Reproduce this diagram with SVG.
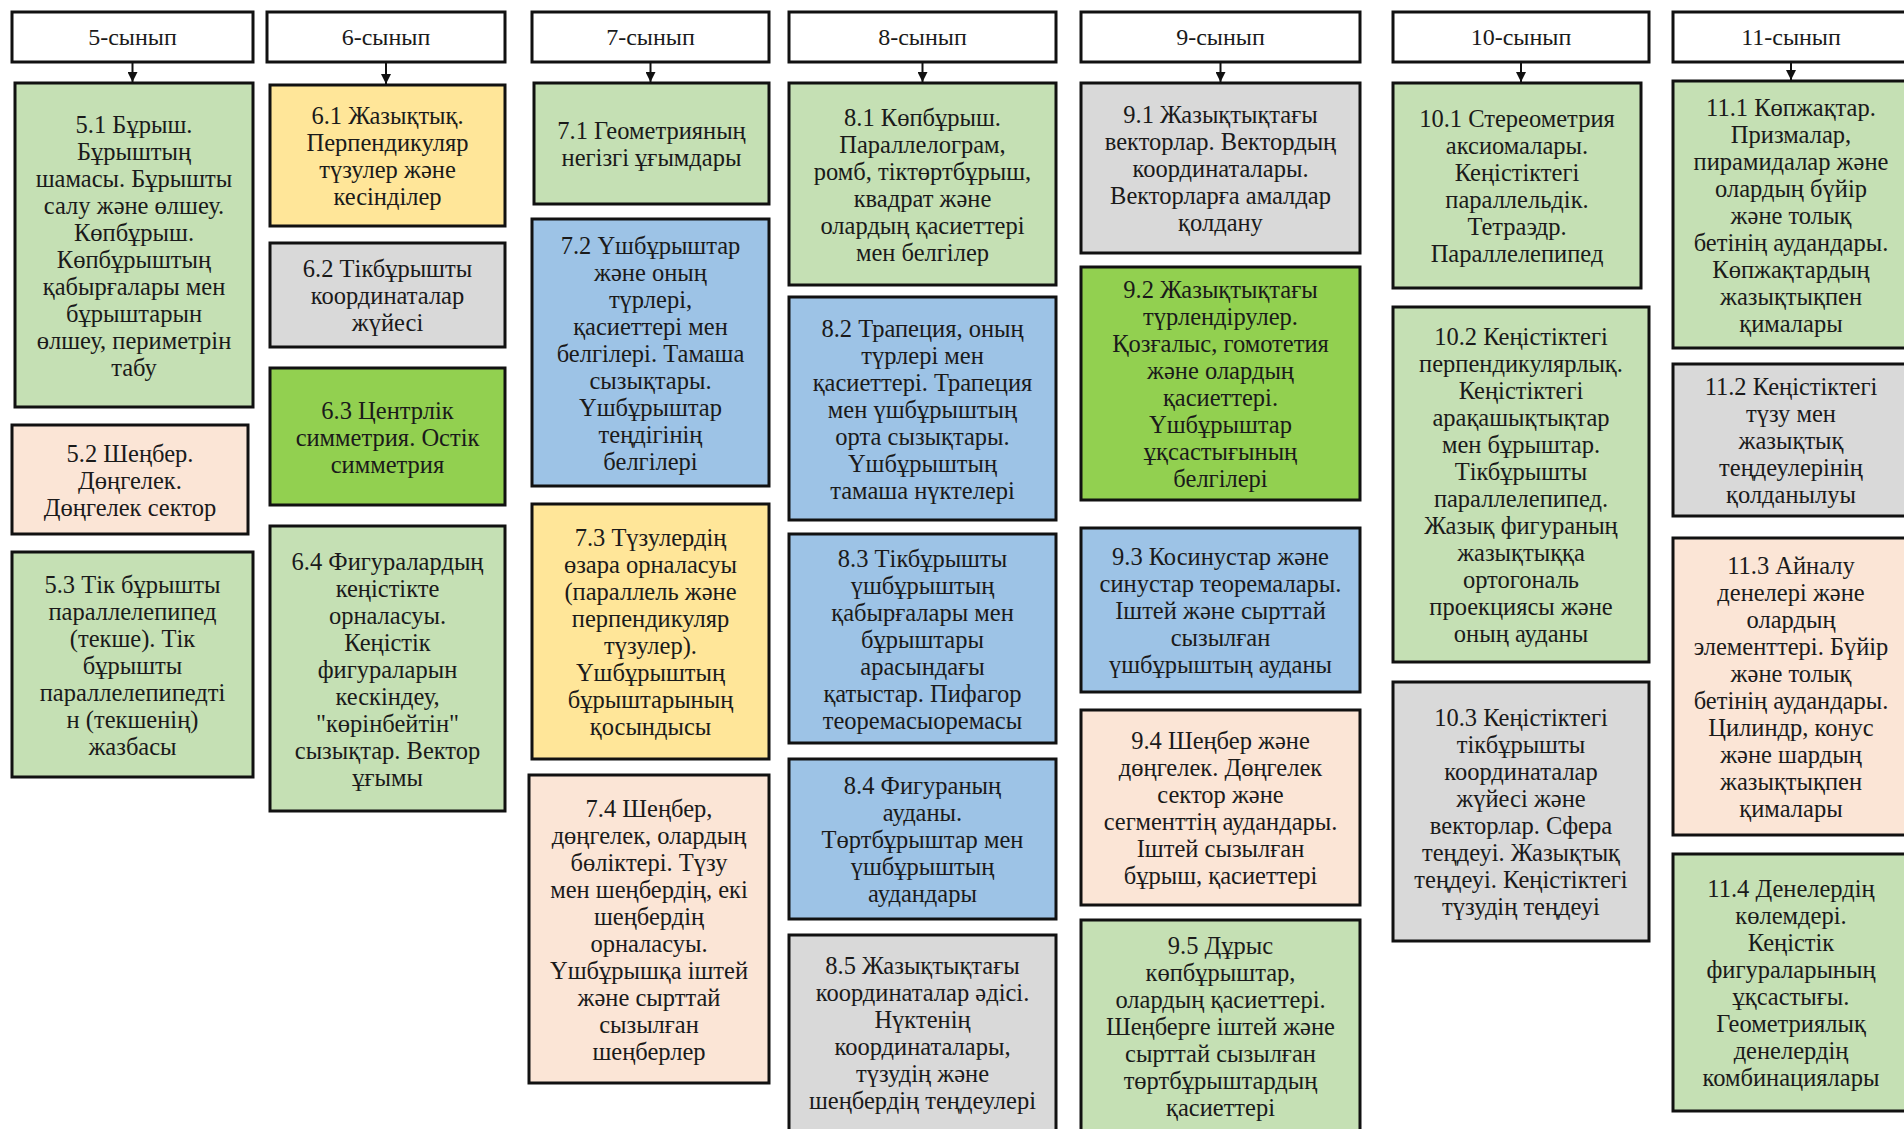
<svg xmlns="http://www.w3.org/2000/svg" width="1904" height="1129" viewBox="0 0 1904 1129">
<style>
.b{stroke:#111;stroke-width:3}
.hd{fill:#fff}
.g{fill:#c5e0b4}.y{fill:#ffe699}.gr{fill:#d9d9d9}.bg{fill:#92d050}.bl{fill:#9dc3e6}.pk{fill:#fbe5d6}
text{font-family:"Liberation Serif","Times New Roman",serif;font-size:24.5px;fill:#1a1a1a;text-anchor:middle}
.ht{font-size:24px}
.c{stroke:#111;stroke-width:2;fill:none}
</style>
<defs>
<marker id="ah" viewBox="0 0 10 10" refX="10" refY="5" markerWidth="5" markerHeight="5" orient="auto" markerUnits="strokeWidth">
<path d="M0,0 L10,5 L0,10 z" fill="#111"/>
</marker>
</defs>
<rect width="1904" height="1129" fill="#fff"/>

<g id="headers">
<g id="h5"><rect class="b hd" x="12" y="12" width="241" height="50"/><text class="ht" x="132.5" y="45">5-сынып</text></g>
<g id="h6"><rect class="b hd" x="267" y="12" width="238" height="50"/><text class="ht" x="386" y="45">6-сынып</text></g>
<g id="h7"><rect class="b hd" x="532" y="12" width="237" height="50"/><text class="ht" x="650.5" y="45">7-сынып</text></g>
<g id="h8"><rect class="b hd" x="789" y="12" width="267" height="50"/><text class="ht" x="922.5" y="45">8-сынып</text></g>
<g id="h9"><rect class="b hd" x="1081" y="12" width="279" height="50"/><text class="ht" x="1220.5" y="45">9-сынып</text></g>
<g id="h10"><rect class="b hd" x="1393" y="12" width="256" height="50"/><text class="ht" x="1521" y="45">10-сынып</text></g>
<g id="h11"><rect class="b hd" x="1673" y="12" width="240" height="50"/><text class="ht" x="1791" y="45">11-сынып</text></g>
</g>

<g id="connectors">
<line class="c" x1="132.5" y1="63" x2="132.5" y2="82" marker-end="url(#ah)"/>
<line class="c" x1="386" y1="63" x2="386" y2="84" marker-end="url(#ah)"/>
<line class="c" x1="650.5" y1="63" x2="650.5" y2="82" marker-end="url(#ah)"/>
<line class="c" x1="922.5" y1="63" x2="922.5" y2="82" marker-end="url(#ah)"/>
<line class="c" x1="1220.5" y1="63" x2="1220.5" y2="82" marker-end="url(#ah)"/>
<line class="c" x1="1521" y1="63" x2="1521" y2="82" marker-end="url(#ah)"/>
<line class="c" x1="1791" y1="63" x2="1791" y2="80" marker-end="url(#ah)"/>
</g>

<g id="n5_1"><rect class="b g" x="15" y="83" width="238" height="324"/>
<text x="134" y="132.5"><tspan x="134">5.1 Бұрыш.</tspan><tspan x="134" dy="27">Бұрыштың</tspan><tspan x="134" dy="27">шамасы. Бұрышты</tspan><tspan x="134" dy="27">салу және өлшеу.</tspan><tspan x="134" dy="27">Көпбұрыш.</tspan><tspan x="134" dy="27">Көпбұрыштың</tspan><tspan x="134" dy="27">қабырғалары мен</tspan><tspan x="134" dy="27">бұрыштарын</tspan><tspan x="134" dy="27">өлшеу, периметрін</tspan><tspan x="134" dy="27">табу</tspan></text></g>

<g id="n5_2"><rect class="b pk" x="12" y="425" width="236" height="109"/>
<text x="130" y="461.5"><tspan x="130">5.2 Шеңбер.</tspan><tspan x="130" dy="27">Дөңгелек.</tspan><tspan x="130" dy="27">Дөңгелек сектор</tspan></text></g>

<g id="n5_3"><rect class="b g" x="12" y="552" width="241" height="225"/>
<text x="132.5" y="592.5"><tspan x="132.5">5.3 Тік бұрышты</tspan><tspan x="132.5" dy="27">параллелепипед</tspan><tspan x="132.5" dy="27">(текше). Тік</tspan><tspan x="132.5" dy="27">бұрышты</tspan><tspan x="132.5" dy="27">параллелепипедті</tspan><tspan x="132.5" dy="27">н (текшенің)</tspan><tspan x="132.5" dy="27">жазбасы</tspan></text></g>

<g id="n6_1"><rect class="b y" x="270" y="85" width="235" height="141"/>
<text x="387.5" y="124"><tspan x="387.5">6.1 Жазықтық.</tspan><tspan x="387.5" dy="27">Перпендикуляр</tspan><tspan x="387.5" dy="27">түзулер және</tspan><tspan x="387.5" dy="27">кесінділер</tspan></text></g>

<g id="n6_2"><rect class="b gr" x="270" y="243" width="235" height="104"/>
<text x="387.5" y="277"><tspan x="387.5">6.2 Тікбұрышты</tspan><tspan x="387.5" dy="27">координаталар</tspan><tspan x="387.5" dy="27">жүйесі</tspan></text></g>

<g id="n6_3"><rect class="b bg" x="270" y="368" width="235" height="137"/>
<text x="387.5" y="418.5"><tspan x="387.5">6.3 Центрлік</tspan><tspan x="387.5" dy="27">симметрия. Остік</tspan><tspan x="387.5" dy="27">симметрия</tspan></text></g>

<g id="n6_4"><rect class="b g" x="270" y="526" width="235" height="285"/>
<text x="387.5" y="569.5"><tspan x="387.5">6.4 Фигуралардың</tspan><tspan x="387.5" dy="27">кеңістікте</tspan><tspan x="387.5" dy="27">орналасуы.</tspan><tspan x="387.5" dy="27">Кеңістік</tspan><tspan x="387.5" dy="27">фигураларын</tspan><tspan x="387.5" dy="27">кескіндеу,</tspan><tspan x="387.5" dy="27">"көрінбейтін"</tspan><tspan x="387.5" dy="27">сызықтар. Вектор</tspan><tspan x="387.5" dy="27">ұғымы</tspan></text></g>

<g id="n7_1"><rect class="b g" x="534" y="83" width="235" height="121"/>
<text x="651.5" y="139"><tspan x="651.5">7.1 Геометрияның</tspan><tspan x="651.5" dy="27">негізгі ұғымдары</tspan></text></g>

<g id="n7_2"><rect class="b bl" x="532" y="219" width="237" height="267"/>
<text x="650.5" y="253.5"><tspan x="650.5">7.2 Үшбұрыштар</tspan><tspan x="650.5" dy="27">және оның</tspan><tspan x="650.5" dy="27">түрлері,</tspan><tspan x="650.5" dy="27">қасиеттері мен</tspan><tspan x="650.5" dy="27">белгілері. Тамаша</tspan><tspan x="650.5" dy="27">сызықтары.</tspan><tspan x="650.5" dy="27">Үшбұрыштар</tspan><tspan x="650.5" dy="27">теңдігінің</tspan><tspan x="650.5" dy="27">белгілері</tspan></text></g>

<g id="n7_3"><rect class="b y" x="532" y="504" width="237" height="255"/>
<text x="650.5" y="546"><tspan x="650.5">7.3 Түзулердің</tspan><tspan x="650.5" dy="27">өзара орналасуы</tspan><tspan x="650.5" dy="27">(параллель және</tspan><tspan x="650.5" dy="27">перпендикуляр</tspan><tspan x="650.5" dy="27">түзулер).</tspan><tspan x="650.5" dy="27">Үшбұрыштың</tspan><tspan x="650.5" dy="27">бұрыштарының</tspan><tspan x="650.5" dy="27">қосындысы</tspan></text></g>

<g id="n7_4"><rect class="b pk" x="529" y="775" width="240" height="308"/>
<text x="649" y="816.5"><tspan x="649">7.4 Шеңбер,</tspan><tspan x="649" dy="27">дөңгелек, олардың</tspan><tspan x="649" dy="27">бөліктері. Түзу</tspan><tspan x="649" dy="27">мен шеңбердің, екі</tspan><tspan x="649" dy="27">шеңбердің</tspan><tspan x="649" dy="27">орналасуы.</tspan><tspan x="649" dy="27">Үшбұрышқа іштей</tspan><tspan x="649" dy="27">және сырттай</tspan><tspan x="649" dy="27">сызылған</tspan><tspan x="649" dy="27">шеңберлер</tspan></text></g>

<g id="n8_1"><rect class="b g" x="789" y="83" width="267" height="202"/>
<text x="922.5" y="125.5"><tspan x="922.5">8.1 Көпбұрыш.</tspan><tspan x="922.5" dy="27">Параллелограм,</tspan><tspan x="922.5" dy="27">ромб, тіктөртбұрыш,</tspan><tspan x="922.5" dy="27">квадрат және</tspan><tspan x="922.5" dy="27">олардың қасиеттері</tspan><tspan x="922.5" dy="27">мен белгілер</tspan></text></g>

<g id="n8_2"><rect class="b bl" x="789" y="297" width="267" height="223"/>
<text x="922.5" y="336.5"><tspan x="922.5">8.2 Трапеция, оның</tspan><tspan x="922.5" dy="27">түрлері мен</tspan><tspan x="922.5" dy="27">қасиеттері. Трапеция</tspan><tspan x="922.5" dy="27">мен үшбұрыштың</tspan><tspan x="922.5" dy="27">орта сызықтары.</tspan><tspan x="922.5" dy="27">Үшбұрыштың</tspan><tspan x="922.5" dy="27">тамаша нүктелері</tspan></text></g>

<g id="n8_3"><rect class="b bl" x="789" y="534" width="267" height="209"/>
<text x="922.5" y="566.5"><tspan x="922.5">8.3 Тікбұрышты</tspan><tspan x="922.5" dy="27">үшбұрыштың</tspan><tspan x="922.5" dy="27">қабырғалары мен</tspan><tspan x="922.5" dy="27">бұрыштары</tspan><tspan x="922.5" dy="27">арасындағы</tspan><tspan x="922.5" dy="27">қатыстар. Пифагор</tspan><tspan x="922.5" dy="27">теоремасыоремасы</tspan></text></g>

<g id="n8_4"><rect class="b bl" x="789" y="759" width="267" height="160"/>
<text x="922.5" y="794"><tspan x="922.5">8.4 Фигураның</tspan><tspan x="922.5" dy="27">ауданы.</tspan><tspan x="922.5" dy="27">Төртбұрыштар мен</tspan><tspan x="922.5" dy="27">үшбұрыштың</tspan><tspan x="922.5" dy="27">аудандары</tspan></text></g>

<g id="n8_5"><rect class="b gr" x="789" y="935" width="267" height="210"/>
<text x="922.5" y="974"><tspan x="922.5">8.5 Жазықтықтағы</tspan><tspan x="922.5" dy="27">координаталар әдісі.</tspan><tspan x="922.5" dy="27">Нүктенің</tspan><tspan x="922.5" dy="27">координаталары,</tspan><tspan x="922.5" dy="27">түзудің және</tspan><tspan x="922.5" dy="27">шеңбердің теңдеулері</tspan></text></g>

<g id="n9_1"><rect class="b gr" x="1081" y="83" width="279" height="170"/>
<text x="1220.5" y="123"><tspan x="1220.5">9.1 Жазықтықтағы</tspan><tspan x="1220.5" dy="27">векторлар. Вектордың</tspan><tspan x="1220.5" dy="27">координаталары.</tspan><tspan x="1220.5" dy="27">Векторларға амалдар</tspan><tspan x="1220.5" dy="27">қолдану</tspan></text></g>

<g id="n9_2"><rect class="b bg" x="1081" y="267" width="279" height="233"/>
<text x="1220.5" y="298"><tspan x="1220.5">9.2 Жазықтықтағы</tspan><tspan x="1220.5" dy="27">түрлендірулер.</tspan><tspan x="1220.5" dy="27">Қозғалыс, гомотетия</tspan><tspan x="1220.5" dy="27">және олардың</tspan><tspan x="1220.5" dy="27">қасиеттері.</tspan><tspan x="1220.5" dy="27">Үшбұрыштар</tspan><tspan x="1220.5" dy="27">ұқсастығының</tspan><tspan x="1220.5" dy="27">белгілері</tspan></text></g>

<g id="n9_3"><rect class="b bl" x="1081" y="528" width="279" height="164"/>
<text x="1220.5" y="565"><tspan x="1220.5">9.3 Косинустар және</tspan><tspan x="1220.5" dy="27">синустар теоремалары.</tspan><tspan x="1220.5" dy="27">Іштей және сырттай</tspan><tspan x="1220.5" dy="27">сызылған</tspan><tspan x="1220.5" dy="27">үшбұрыштың ауданы</tspan></text></g>

<g id="n9_4"><rect class="b pk" x="1081" y="710" width="279" height="195"/>
<text x="1220.5" y="749"><tspan x="1220.5">9.4 Шеңбер және</tspan><tspan x="1220.5" dy="27">дөңгелек. Дөңгелек</tspan><tspan x="1220.5" dy="27">сектор және</tspan><tspan x="1220.5" dy="27">сегменттің аудандары.</tspan><tspan x="1220.5" dy="27">Іштей сызылған</tspan><tspan x="1220.5" dy="27">бұрыш, қасиеттері</tspan></text></g>

<g id="n9_5"><rect class="b g" x="1081" y="920" width="279" height="225"/>
<text x="1220.5" y="954"><tspan x="1220.5">9.5 Дұрыс</tspan><tspan x="1220.5" dy="27">көпбұрыштар,</tspan><tspan x="1220.5" dy="27">олардың қасиеттері.</tspan><tspan x="1220.5" dy="27">Шеңберге іштей және</tspan><tspan x="1220.5" dy="27">сырттай сызылған</tspan><tspan x="1220.5" dy="27">төртбұрыштардың</tspan><tspan x="1220.5" dy="27">қасиеттері</tspan></text></g>

<g id="n10_1"><rect class="b g" x="1393" y="83" width="248" height="205"/>
<text x="1517" y="127"><tspan x="1517">10.1 Стереометрия</tspan><tspan x="1517" dy="27">аксиомалары.</tspan><tspan x="1517" dy="27">Кеңістіктегі</tspan><tspan x="1517" dy="27">параллельдік.</tspan><tspan x="1517" dy="27">Тетраэдр.</tspan><tspan x="1517" dy="27">Параллелепипед</tspan></text></g>

<g id="n10_2"><rect class="b g" x="1393" y="307" width="256" height="355"/>
<text x="1521" y="345"><tspan x="1521">10.2 Кеңістіктегі</tspan><tspan x="1521" dy="27">перпендикулярлық.</tspan><tspan x="1521" dy="27">Кеңістіктегі</tspan><tspan x="1521" dy="27">арақашықтықтар</tspan><tspan x="1521" dy="27">мен бұрыштар.</tspan><tspan x="1521" dy="27">Тікбұрышты</tspan><tspan x="1521" dy="27">параллелепипед.</tspan><tspan x="1521" dy="27">Жазық фигураның</tspan><tspan x="1521" dy="27">жазықтыққа</tspan><tspan x="1521" dy="27">ортогональ</tspan><tspan x="1521" dy="27">проекциясы және</tspan><tspan x="1521" dy="27">оның ауданы</tspan></text></g>

<g id="n10_3"><rect class="b gr" x="1393" y="682" width="256" height="259"/>
<text x="1521" y="726"><tspan x="1521">10.3 Кеңістіктегі</tspan><tspan x="1521" dy="27">тікбұрышты</tspan><tspan x="1521" dy="27">координаталар</tspan><tspan x="1521" dy="27">жүйесі және</tspan><tspan x="1521" dy="27">векторлар. Сфера</tspan><tspan x="1521" dy="27">теңдеуі. Жазықтық</tspan><tspan x="1521" dy="27">теңдеуі. Кеңістіктегі</tspan><tspan x="1521" dy="27">түзудің теңдеуі</tspan></text></g>

<g id="n11_1"><rect class="b g" x="1673" y="81" width="240" height="267"/>
<text x="1791" y="115.5"><tspan x="1791">11.1 Көпжақтар.</tspan><tspan x="1791" dy="27">Призмалар,</tspan><tspan x="1791" dy="27">пирамидалар және</tspan><tspan x="1791" dy="27">олардың бүйір</tspan><tspan x="1791" dy="27">және толық</tspan><tspan x="1791" dy="27">бетінің аудандары.</tspan><tspan x="1791" dy="27">Көпжақтардың</tspan><tspan x="1791" dy="27">жазықтықпен</tspan><tspan x="1791" dy="27">қималары</tspan></text></g>

<g id="n11_2"><rect class="b gr" x="1673" y="364" width="240" height="152"/>
<text x="1791" y="395"><tspan x="1791">11.2 Кеңістіктегі</tspan><tspan x="1791" dy="27">түзу мен</tspan><tspan x="1791" dy="27">жазықтық</tspan><tspan x="1791" dy="27">теңдеулерінің</tspan><tspan x="1791" dy="27">қолданылуы</tspan></text></g>

<g id="n11_3"><rect class="b pk" x="1673" y="538" width="240" height="297"/>
<text x="1791" y="574"><tspan x="1791">11.3 Айналу</tspan><tspan x="1791" dy="27">денелері және</tspan><tspan x="1791" dy="27">олардың</tspan><tspan x="1791" dy="27">элементтері. Бүйір</tspan><tspan x="1791" dy="27">және толық</tspan><tspan x="1791" dy="27">бетінің аудандары.</tspan><tspan x="1791" dy="27">Цилиндр, конус</tspan><tspan x="1791" dy="27">және шардың</tspan><tspan x="1791" dy="27">жазықтықпен</tspan><tspan x="1791" dy="27">қималары</tspan></text></g>

<g id="n11_4"><rect class="b g" x="1673" y="854" width="240" height="257"/>
<text x="1791" y="897"><tspan x="1791">11.4 Денелердің</tspan><tspan x="1791" dy="27">көлемдері.</tspan><tspan x="1791" dy="27">Кеңістік</tspan><tspan x="1791" dy="27">фигураларының</tspan><tspan x="1791" dy="27">ұқсастығы.</tspan><tspan x="1791" dy="27">Геометриялық</tspan><tspan x="1791" dy="27">денелердің</tspan><tspan x="1791" dy="27">комбинациялары</tspan></text></g>
</svg>
